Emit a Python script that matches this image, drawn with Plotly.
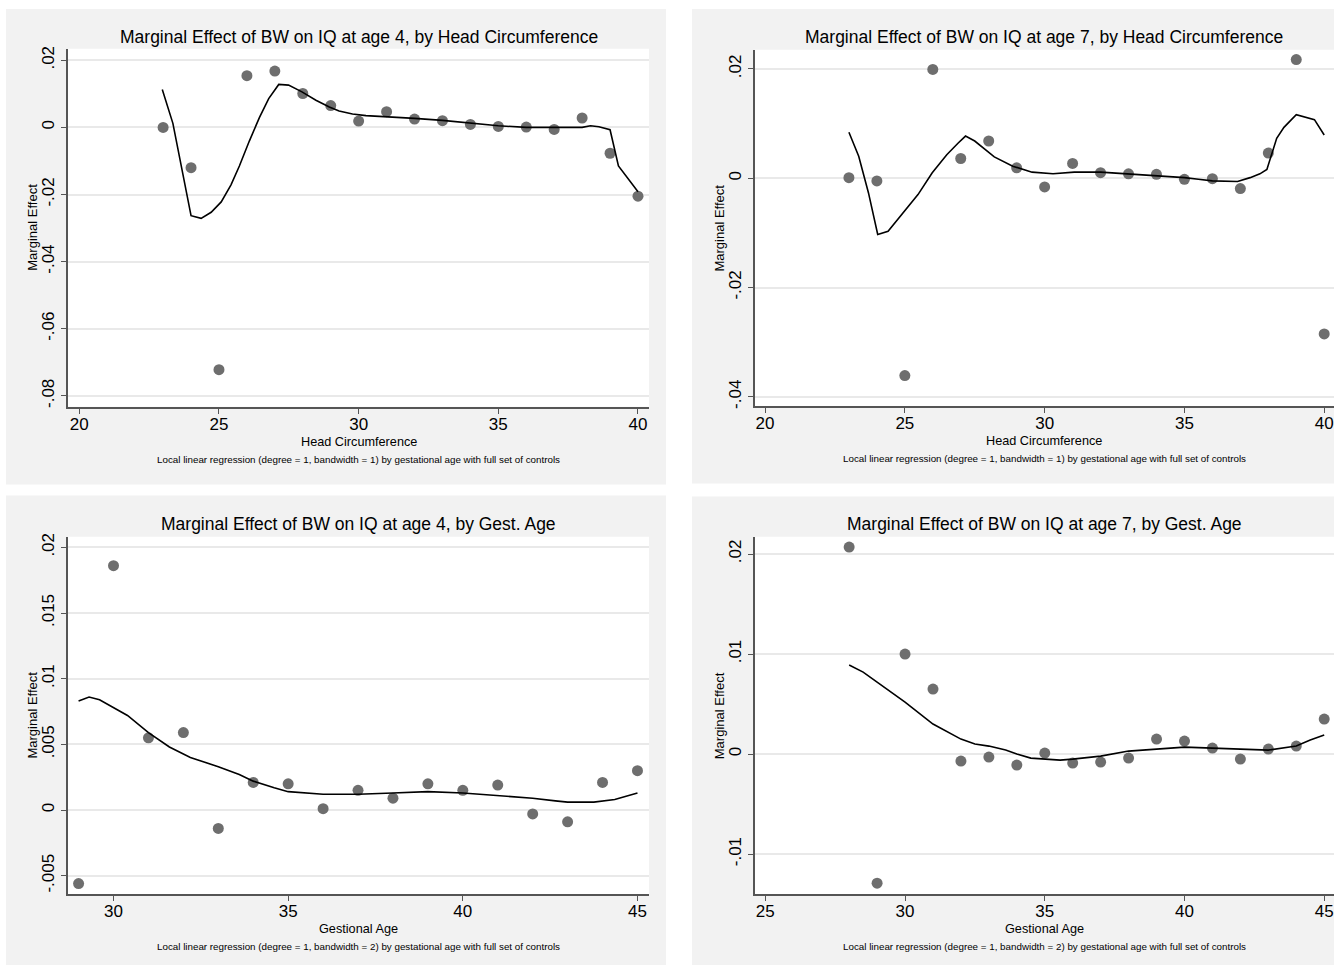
import plotly.graph_objects as go

W, H = 1334, 970

# ---------------- data ----------------
# Panel 1: age 4, by head circumference
hc_x = list(range(23, 41))
hc4_pts = [0.0000, -0.0120, -0.0722, 0.0154, 0.0168, 0.0101, 0.0065, 0.0019, 0.0047,
           0.0025, 0.0020, 0.0009, 0.0003, 0.0001, -0.0006, 0.0028, -0.0077, -0.0205]
hc4_line_x = [22.97, 23.35, 24.0, 24.36, 24.72, 25.08, 25.43, 25.73, 26.09, 26.45, 26.78,
              27.14, 27.49, 27.97, 28.47, 28.95, 29.3, 29.78, 30.26, 31.0, 32.0, 33.0,
              34.0, 35.0, 36.0, 37.0, 38.0, 38.3, 38.6, 39.0, 39.3, 40.0]
hc4_line_y = [0.0113, 0.0012, -0.0263, -0.0271, -0.0253, -0.0222, -0.0171, -0.0115, -0.0040,
              0.0030, 0.0086, 0.0128, 0.0126, 0.0106, 0.0081, 0.0061, 0.0049, 0.0040, 0.0035,
              0.0032, 0.0027, 0.0021, 0.0012, 0.0005, 0.0000, -0.0001, 0.0000, 0.0005, 0.0002,
              -0.0007, -0.0115, -0.0192]

# Panel 2: age 7, by head circumference
hc7_pts = [0.0001, -0.0005, -0.0361, 0.0199, 0.0036, 0.0068, 0.0019, -0.0016, 0.0027,
           0.0010, 0.0008, 0.0007, -0.0002, -0.0001, -0.0019, 0.0046, 0.0217, -0.0285]
hc7_line_x = [23.0, 23.35, 23.7, 24.03, 24.4, 24.94, 25.47, 25.98, 26.5, 26.9, 27.17, 27.5,
              28.2, 28.86, 29.55, 30.3, 31.06, 32.0, 33.0, 34.0, 35.0, 35.5, 36.0, 36.9,
              37.35, 37.7, 37.95, 38.3, 38.56, 39.0, 39.65, 40.0]
hc7_line_y = [0.0084, 0.0040, -0.0027, -0.0103, -0.0097, -0.0063, -0.0030, 0.0010, 0.0043,
              0.0064, 0.0077, 0.0068, 0.0039, 0.0022, 0.0011, 0.0008, 0.0011, 0.0011, 0.0008,
              0.0005, 0.0001, -0.0002, -0.0005, -0.0006, 0.0001, 0.0008, 0.0016, 0.0073,
              0.0093, 0.0116, 0.0107, 0.0079]

# Panel 3: age 4, by gestational age
ga4_x = list(range(29, 46))
ga4_pts = [-0.0056, 0.0186, 0.0055, 0.0059, -0.0014, 0.0021, 0.0020, 0.0001, 0.0015,
           0.0009, 0.0020, 0.0015, 0.0019, -0.0003, -0.0009, 0.0021, 0.0030]
ga4_line_x = [29.0, 29.3, 29.6, 30.0, 30.4, 31.0, 31.6, 32.2, 33.0, 33.6, 34.0, 34.6, 35.0,
              36.0, 37.0, 38.0, 39.0, 40.0, 41.0, 42.0, 42.65, 43.0, 43.75, 44.35, 45.0]
ga4_line_y = [0.0083, 0.0086, 0.0084, 0.0078, 0.0072, 0.0059, 0.0048, 0.0040, 0.0033,
              0.0027, 0.0022, 0.0017, 0.0014, 0.0012, 0.0012, 0.0013, 0.0014, 0.0013,
              0.0011, 0.0009, 0.0007, 0.0006, 0.0006, 0.0008, 0.0013]

# Panel 4: age 7, by gestational age
ga7_x = list(range(28, 46))
ga7_pts = [0.0207, -0.0129, 0.0100, 0.0065, -0.0007, -0.0003, -0.0011, 0.0001, -0.0009,
           -0.0008, -0.0004, 0.0015, 0.0013, 0.0006, -0.0005, 0.0005, 0.0008, 0.0035]
ga7_line_x = [28.0, 28.5, 29.0, 30.0, 31.0, 32.0, 32.5, 33.0, 33.6, 34.0, 34.5, 35.0, 35.55,
              36.0, 37.0, 38.0, 39.0, 40.0, 41.0, 42.0, 43.0, 44.0, 44.5, 45.0]
ga7_line_y = [0.0089, 0.0082, 0.0072, 0.0052, 0.0030, 0.0015, 0.0010, 0.0008, 0.0004, 0.0000,
              -0.0004, -0.0005, -0.0006, -0.0005, -0.0002, 0.0003, 0.0005, 0.0007, 0.0006,
              0.0005, 0.0004, 0.0008, 0.0014, 0.0019]

titles = ["Marginal Effect of BW on IQ at age 4, by Head Circumference",
          "Marginal Effect of BW on IQ at age 7, by Head Circumference",
          "Marginal Effect of BW on IQ at age 4, by Gest. Age",
          "Marginal Effect of BW on IQ at age 7, by Gest. Age"]
xtitles = ["Head Circumference", "Head Circumference", "Gestional Age", "Gestional Age"]
ytitle = "Marginal Effect"
notes = ["Local linear regression (degree = 1, bandwidth = 1) by gestational age with full set of controls",
         "Local linear regression (degree = 1, bandwidth = 1) by gestational age with full set of controls",
         "Local linear regression (degree = 1, bandwidth = 2) by gestational age with full set of controls",
         "Local linear regression (degree = 1, bandwidth = 2) by gestational age with full set of controls"]

x_ticks = [[20, 25, 30, 35, 40], [20, 25, 30, 35, 40], [30, 35, 40, 45], [25, 30, 35, 40, 45]]
y_tickvals = [[0.02, 0, -0.02, -0.04, -0.06, -0.08],
              [0.02, 0, -0.02, -0.04],
              [0.02, 0.015, 0.01, 0.005, 0, -0.005],
              [0.02, 0.01, 0, -0.01]]
y_ticktext = [[".02", "0", "-.02", "-.04", "-.06", "-.08"],
              [".02", "0", "-.02", "-.04"],
              [".02", ".015", ".01", ".005", "0", "-.005"],
              [".02", ".01", "0", "-.01"]]

series = [(hc_x, hc4_pts, hc4_line_x, hc4_line_y),
          (hc_x, hc7_pts, hc7_line_x, hc7_line_y),
          (ga4_x, ga4_pts, ga4_line_x, ga4_line_y),
          (ga7_x, ga7_pts, ga7_line_x, ga7_line_y)]

# ---------------- layout geometry (pixels) ----------------
panels = [(6, 5, 666, 484), (692, 5, 1334, 483), (6, 495, 666, 968), (692, 496, 1334, 968)]
plots = [(68, 45, 649, 405.7), (754.7, 46, 1334, 405), (68, 536.7, 649, 896.7), (754.7, 536.7, 1334, 896.7)]
title_y = [33, 33, 524, 524]
x_ranges = [[19.595, 40.394], [19.63, 40.35], [28.697, 45.33], [24.62, 45.35]]
y_ranges = [[-0.08325, 0.02346], [-0.04169, 0.02351], [-0.00641, 0.0208], [-0.01401, 0.02172]]


def px(x):
    return x / W


def py(y):
    return 1 - y / H


fig = go.Figure()
shapes = []
annotations = []
font_family = "Liberation Sans, Arial, Helvetica, sans-serif"
for i in range(4):
    sfx = "" if i == 0 else str(i + 1)
    xa, ya = "x" + sfx, "y" + sfx
    xs, pts, lx, ly = series[i]
    fig.add_trace(go.Scatter(x=xs, y=pts, mode="markers", xaxis=xa, yaxis=ya,
                             marker=dict(color="#6e6e6e", size=11, line=dict(width=0)),
                             showlegend=False, cliponaxis=False))
    fig.add_trace(go.Scatter(x=lx, y=ly, mode="lines", xaxis=xa, yaxis=ya,
                             line=dict(color="black", width=1.6), showlegend=False))
    l, t, r, b = plots[i]
    fig.layout["xaxis" + sfx] = dict(
        domain=[px(l), px(r)], anchor=ya, range=x_ranges[i], tickvals=x_ticks[i],
        showgrid=False, zeroline=False, showline=True, linecolor="#555555", linewidth=1.5,
        ticks="outside", ticklen=5, tickwidth=1.2, tickcolor="#555555",
        ticklabelstandoff=-4,
        tickfont=dict(size=17, color="black", family=font_family))
    fig.layout["yaxis" + sfx] = dict(
        domain=[py(b), py(t)], anchor=xa, range=y_ranges[i], tickvals=y_tickvals[i],
        ticktext=y_ticktext[i], tickangle=-90,
        showgrid=True, gridcolor="#e9e9e9", gridwidth=1.5, zeroline=False,
        showline=True, linecolor="#555555", linewidth=1.5,
        ticks="outside", ticklen=5, tickwidth=1.2, tickcolor="#555555",
        tickfont=dict(size=17, color="black", family=font_family))
    pl, pt, pr, pb = panels[i]
    shapes.append(dict(type="rect", xref="paper", yref="paper", x0=px(pl), x1=px(pr),
                       y0=py(pb), y1=py(pt), fillcolor="#f2f2f2", line=dict(width=0), layer="below"))
    shapes.append(dict(type="rect", xref="paper", yref="paper", x0=px(l), x1=px(r),
                       y0=py(b), y1=py(t), fillcolor="white", line=dict(width=0), layer="below"))
    cx = (l + r) / 2
    annotations.append(dict(text=titles[i], x=px(cx), y=py(title_y[i]), xref="paper", yref="paper",
                            showarrow=False, xanchor="center", yanchor="middle",
                            font=dict(size=17.5, color="black", family=font_family)))
    annotations.append(dict(text=xtitles[i], x=px(cx), y=py(b + 35), xref="paper", yref="paper",
                            showarrow=False, xanchor="center", yanchor="middle",
                            font=dict(size=12.7, color="black", family=font_family)))
    annotations.append(dict(text=notes[i], x=px(cx), y=py(b + 53), xref="paper", yref="paper",
                            showarrow=False, xanchor="center", yanchor="middle",
                            font=dict(size=9.8, color="black", family=font_family)))
    annotations.append(dict(text=ytitle, x=px(l - 35), y=py((t + b) / 2), xref="paper", yref="paper",
                            showarrow=False, xanchor="center", yanchor="middle", textangle=-90,
                            font=dict(size=13, color="black", family=font_family)))

fig.update_layout(width=W, height=H, margin=dict(l=0, r=0, t=0, b=0),
                  paper_bgcolor="white", plot_bgcolor="rgba(0,0,0,0)",
                  shapes=shapes, annotations=annotations, showlegend=False)

fig.write_html("out.html", config={"displayModeBar": False},
               post_script="document.body.style.margin='0';document.body.style.overflow='hidden';")
